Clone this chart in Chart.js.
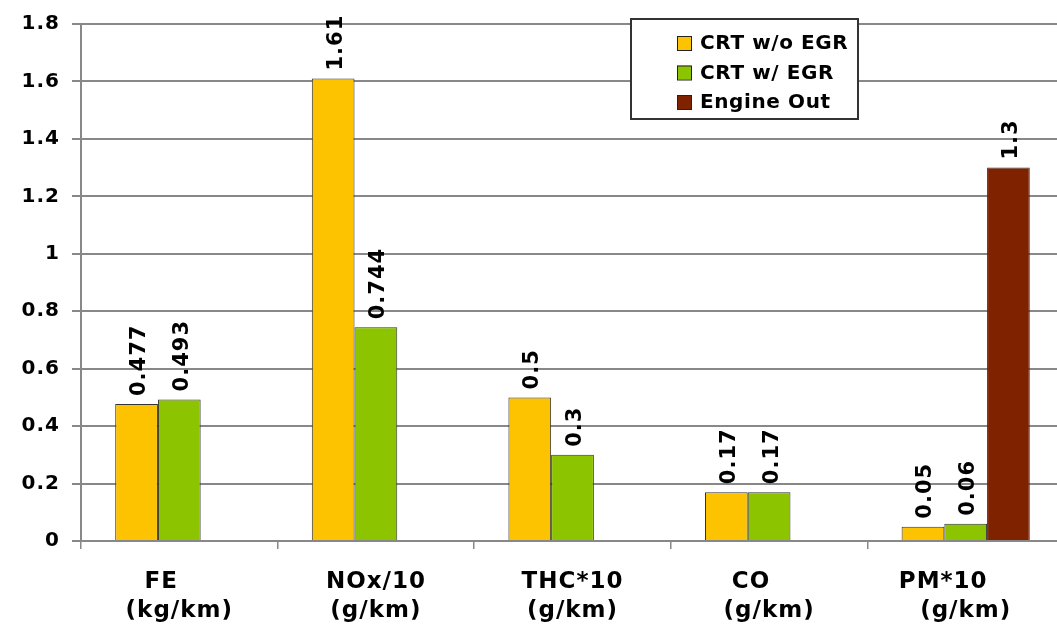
<!DOCTYPE html>
<html>
<head>
<meta charset="utf-8">
<script src="https://cdn.jsdelivr.net/npm/chart.js@4/dist/chart.umd.min.js"></script>
<style>
  html, body { margin: 0; padding: 0; background: #fff; overflow: hidden; }
  #wrap { width: 1064px; height: 626px; }
</style>
</head>
<body>
<div id="wrap"><canvas id="chart" width="1064" height="626"></canvas></div>
<script>
// category labels (two lines each, spaces keep the original offset of line 1)
const categories = [
  ['FE    ', '(kg/km)'],
  ['NOx/10', '(g/km)'],
  ['THC*10', '(g/km)'],
  ['CO    ', '(g/km)'],
  ['PM*10     ', '(g/km)']
];
const seriesNames = ['CRT w/o EGR', 'CRT w/ EGR', 'Engine Out'];
const crtNoEgr = [0.477, 1.61, 0.5, 0.17, 0.05];
const crtEgr = [0.493, 0.744, 0.3, 0.17, 0.06];
const engineOut = [null, null, null, null, 1.3];
const seriesColors = ['#FDC200', '#8DC400', '#7F2200'];

const yMin = 0, yMax = 1.8, yStep = 0.2;

// the original font is wide (Verdana-like), so space the letters out a bit
const wideText = {
  id: 'wideText',
  beforeDraw(chart) {
    chart.ctx.letterSpacing = '1px';
  }
};

// value labels, rotated, above each bar
const valueLabels = {
  id: 'valueLabels',
  afterDatasetsDraw(chart) {
    const ctx = chart.ctx;
    ctx.save();
    ctx.letterSpacing = '1px';
    ctx.font = 'bold 21px "DejaVu Sans"';
    ctx.fillStyle = '#000';
    chart.data.datasets.forEach(function(ds, i) {
      const meta = chart.getDatasetMeta(i);
      meta.data.forEach(function(bar, j) {
        const v = ds.data[j];
        if (v == null) return;
        ctx.save();
        ctx.translate(bar.x + 2, bar.y - 8);
        ctx.rotate(-Math.PI / 2);
        ctx.textAlign = 'left';
        ctx.textBaseline = 'middle';
        ctx.fillText(String(v), 0, 1);
        ctx.restore();
      });
    });
    ctx.restore();
  }
};

// boxed legend in the upper middle of the plot
const boxLegend = {
  id: 'boxLegend',
  afterDraw(chart) {
    const ctx = chart.ctx;
    const x = 631, y = 19, w = 227, h = 100;
    ctx.save();
    ctx.letterSpacing = '0.6px';
    ctx.fillStyle = '#fff';
    ctx.fillRect(x, y, w, h);
    ctx.strokeStyle = '#333';
    ctx.lineWidth = 2;
    ctx.strokeRect(x, y, w, h);
    ctx.font = 'bold 20px "DejaVu Sans"';
    ctx.textBaseline = 'middle';
    ctx.textAlign = 'left';
    chart.data.datasets.forEach(function(ds, i) {
      const cy = 43 + i * 29.5;
      ctx.fillStyle = ds.backgroundColor;
      ctx.fillRect(677, cy - 7, 14, 14);
      ctx.strokeStyle = '#222';
      ctx.lineWidth = 1;
      ctx.strokeRect(677.5, cy - 6.5, 14, 14);
      ctx.fillStyle = '#000';
      ctx.fillText(ds.label, 700, cy + 1);
    });
    ctx.restore();
  }
};

const seriesData = [crtNoEgr, crtEgr, engineOut];

new Chart(document.getElementById('chart').getContext('2d'), {
  type: 'bar',
  data: {
    labels: categories,
    datasets: seriesNames.map(function(name, i) {
      return {
        label: name,
        data: seriesData[i],
        backgroundColor: seriesColors[i],
        borderColor: '#333',
        borderWidth: 1,
        categoryPercentage: 0.652,
        barPercentage: 1
      };
    })
  },
  options: {
    responsive: false,
    animation: false,
    layout: { padding: { left: 0, top: 22, right: 0, bottom: 0 } },
    plugins: {
      legend: { display: false },
      tooltip: { enabled: false }
    },
    scales: {
      x: {
        offset: true,
        afterFit(scale) { scale.height = 85; },
        grid: {
          offset: true,
          drawOnChartArea: false,
          drawTicks: true,
          tickLength: 8,
          color: '#888',
          lineWidth: 1.5
        },
        border: { color: '#888', width: 2 },
        ticks: {
          color: '#000',
          padding: 18,
          maxRotation: 0,
          font: { family: '"DejaVu Sans"', weight: 'bold', size: 23, lineHeight: 1.28 }
        }
      },
      y: {
        min: yMin,
        max: yMax,
        afterFit(scale) { scale.width = 81; },
        grid: {
          color: '#888',
          lineWidth: 2,
          tickLength: 9
        },
        border: { color: '#888', width: 2 },
        ticks: {
          stepSize: yStep,
          padding: 12,
          color: '#000',
          font: { family: '"DejaVu Sans"', weight: 'bold', size: 20 },
          callback: function(v) { return String(Math.round(v * 10) / 10); }
        }
      }
    }
  },
  plugins: [wideText, valueLabels, boxLegend]
});
</script>
</body>
</html>
